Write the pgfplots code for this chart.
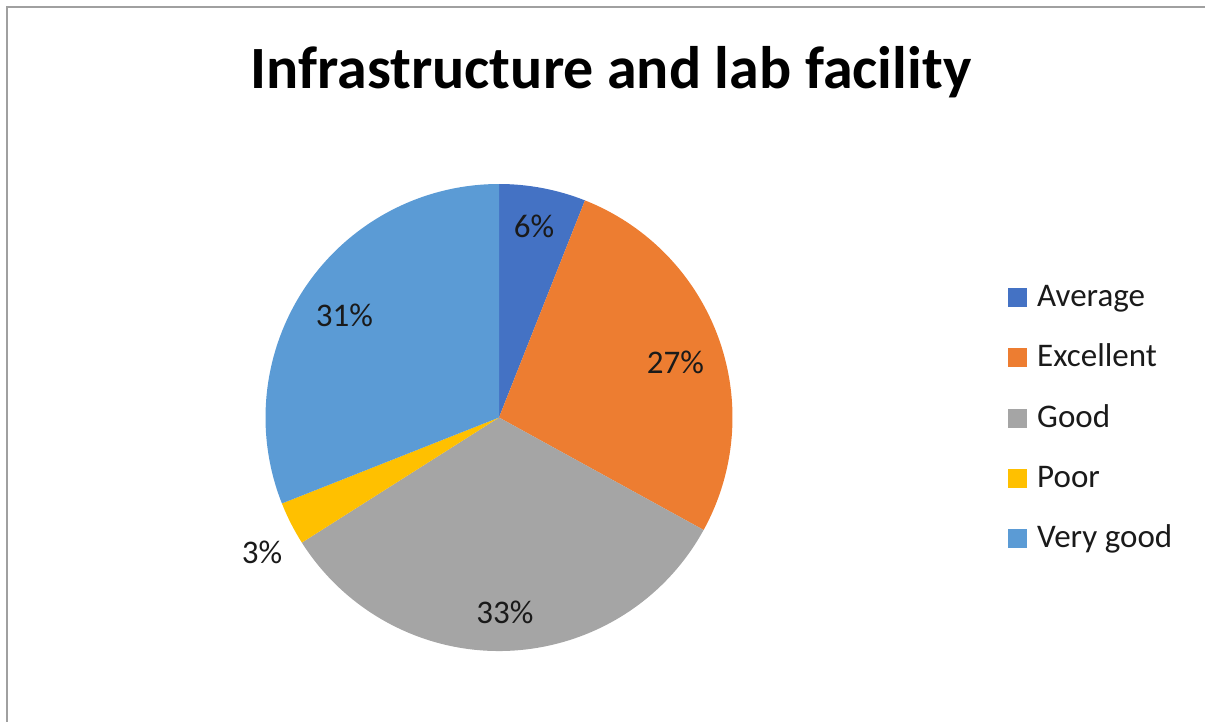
\documentclass[border=0pt]{standalone}
\usepackage{pgfplots}
\usepackage{pgfplotstable}
\pgfplotsset{compat=1.18}
\usepackage{fontspec}
\setmainfont{Carlito}
\definecolor{cAvg}{HTML}{4472C4}
\definecolor{cExc}{HTML}{ED7D31}
\definecolor{cGood}{HTML}{A5A5A5}
\definecolor{cPoor}{HTML}{FFC000}
\definecolor{cVery}{HTML}{5B9BD5}
\definecolor{cFrame}{HTML}{A0A0A0}
\definecolor{cText}{HTML}{1A1A1A}
\pgfplotstableread[col sep=comma]{
label,value
Average,6
Excellent,27
Good,33
Poor,3
Very good,31
}\piedata
\begin{document}
\begin{tikzpicture}
\pgfplotstablegetelem{0}{value}\of\piedata \let\vA\pgfplotsretval
\pgfplotstablegetelem{1}{value}\of\piedata \let\vB\pgfplotsretval
\pgfplotstablegetelem{2}{value}\of\piedata \let\vC\pgfplotsretval
\pgfplotstablegetelem{3}{value}\of\piedata \let\vD\pgfplotsretval
\pgfplotstablegetelem{4}{value}\of\piedata \let\vE\pgfplotsretval
\pgfmathsetmacro\aO{90}
\pgfmathsetmacro\aA{\aO-3.6*\vA}
\pgfmathsetmacro\aB{\aA-3.6*\vB}
\pgfmathsetmacro\aC{\aB-3.6*\vC}
\pgfmathsetmacro\aD{\aC-3.6*\vD}
\pgfmathsetmacro\aE{\aD-3.6*\vE}
\def\R{233.5pt}
\begin{axis}[name=ax, scale only axis, width=1205pt, height=722pt,
  xmin=0, xmax=1205, ymin=0, ymax=722, y dir=reverse, hide axis, clip=false]
% frame
\draw[cFrame, line width=2pt] (axis cs:6.5,722) -- (axis cs:6.5,7.5) -- (axis cs:1205,7.5);
% wedges
\fill[cAvg]  (axis cs:499,417.5) -- ++(\aO:\R) arc[start angle=\aO, end angle=\aA, radius=\R] -- cycle;
\fill[cExc]  (axis cs:499,417.5) -- ++(\aA:\R) arc[start angle=\aA, end angle=\aB, radius=\R] -- cycle;
\fill[cGood] (axis cs:499,417.5) -- ++(\aB:\R) arc[start angle=\aB, end angle=\aC, radius=\R] -- cycle;
\fill[cPoor] (axis cs:499,417.5) -- ++(\aC:\R) arc[start angle=\aC, end angle=\aD, radius=\R] -- cycle;
\fill[cVery] (axis cs:499,417.5) -- ++(\aD:\R) arc[start angle=\aD, end angle=\aE, radius=\R] -- cycle;
% title
\node[anchor=base, text=black, font=\fontsize{60}{72}\selectfont\bfseries, inner sep=0pt]
  at (axis cs:611,89) {Infrastructure and lab facility};
% data labels
\begin{scope}[every node/.style={anchor=base, inner sep=0pt, text=cText, font=\fontsize{33}{40}\selectfont}]
\node at (axis cs:534,237) {\vA\%};
\node at (axis cs:675.5,373) {\vB\%};
\node at (axis cs:505,623) {\vC\%};
\node at (axis cs:262,563) {\vD\%};
\node at (axis cs:344.5,326) {\vE\%};
\end{scope}
% legend
\begin{scope}[every node/.style={anchor=base west, inner sep=0pt, text=cText, font=\fontsize{33}{40}\selectfont}]
\fill[cAvg]  (axis cs:1008,288)    rectangle (axis cs:1027,307);
\node at (axis cs:1037,306.5) {Average};
\fill[cExc]  (axis cs:1008,348.25) rectangle (axis cs:1027,367.25);
\node at (axis cs:1037,366.75) {Excellent};
\fill[cGood] (axis cs:1008,408.5)  rectangle (axis cs:1027,427.5);
\node at (axis cs:1037,427) {Good};
\fill[cPoor] (axis cs:1008,468.75) rectangle (axis cs:1027,487.75);
\node at (axis cs:1037,487.25) {Poor};
\fill[cVery] (axis cs:1008,529)    rectangle (axis cs:1027,548);
\node at (axis cs:1037,547.5) {Very good};
\end{scope}
\end{axis}
\pgfresetboundingbox
\path[use as bounding box] (ax.south west) rectangle (ax.north east);
\end{tikzpicture}
\end{document}
